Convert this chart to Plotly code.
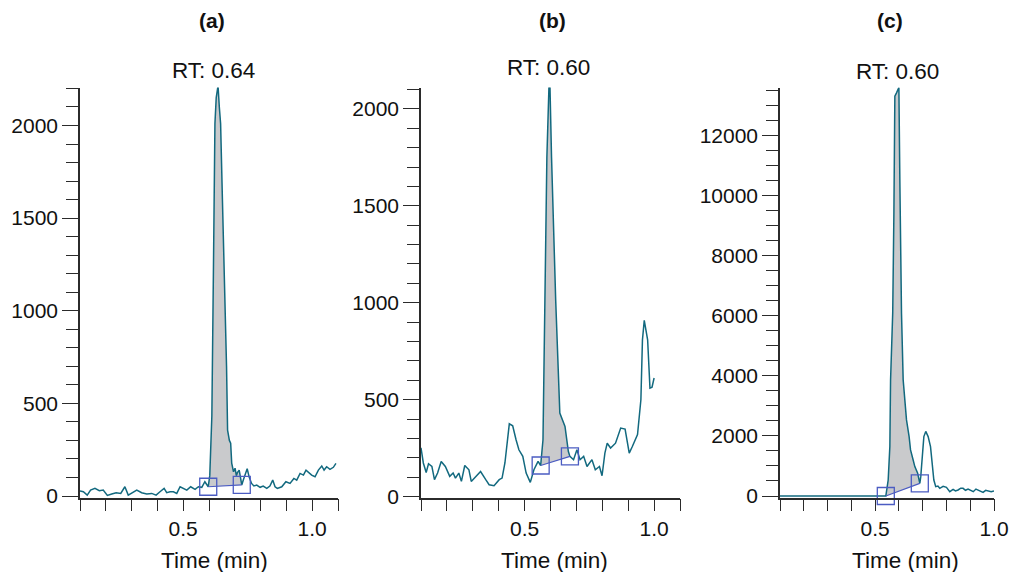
import plotly.graph_objects as go

# ---------------- data ----------------
# Panel (a)
a_time = [0.100, 0.113, 0.128, 0.141, 0.158, 0.175, 0.190, 0.206, 0.223, 0.240,
          0.258, 0.274, 0.287, 0.304, 0.320, 0.339, 0.359, 0.378, 0.395, 0.410,
          0.426, 0.436, 0.449, 0.462, 0.475, 0.488, 0.500, 0.514, 0.529, 0.546,
          0.559, 0.572, 0.584, 0.591, 0.597, 0.603, 0.607, 0.611, 0.617, 0.623,
          0.628, 0.632, 0.635, 0.640, 0.645, 0.652, 0.660, 0.668, 0.672, 0.679,
          0.684, 0.688, 0.695, 0.701, 0.706, 0.710, 0.717, 0.722, 0.727, 0.733,
          0.740, 0.748, 0.756, 0.765, 0.774, 0.785, 0.798, 0.810, 0.824, 0.836,
          0.847, 0.856, 0.865, 0.882, 0.898, 0.914, 0.929, 0.940, 0.953, 0.966,
          0.976, 0.989, 0.998, 1.011, 1.024, 1.037, 1.046, 1.056, 1.069, 1.082,
          1.092]
a_int = [27, 23, 5, 32, 41, 29, 32, 3, 11, 18,
         14, 50, 5, 18, 32, 18, 11, 14, 5, 23,
         41, 18, 23, 23, 14, 50, 41, 32, 50, 36,
         50, 47, 77, 59, 50, 110, 250, 430, 1200, 2010,
         2150, 2215, 2215, 2100, 2010, 1600, 1200, 700, 356, 300,
         285, 178, 131, 150, 110, 126, 140, 95, 60, 86,
         113, 147, 101, 68, 54, 59, 47, 54, 41, 54,
         86, 50, 41, 50, 77, 68, 95, 86, 122, 113,
         140, 122, 113, 104, 140, 162, 140, 158, 144, 155,
         176]
a_base_time = [0.597, 0.727]
a_base_int = [50, 60]

# Panel (b)
b_time = [0.100, 0.109, 0.120, 0.129, 0.142, 0.152, 0.164, 0.178, 0.194, 0.211,
          0.224, 0.233, 0.246, 0.256, 0.269, 0.285, 0.294, 0.311, 0.330, 0.350,
          0.363, 0.382, 0.402, 0.413, 0.424, 0.441, 0.454, 0.467, 0.478, 0.493,
          0.506, 0.522, 0.536, 0.552, 0.562, 0.571, 0.578, 0.586, 0.594, 0.598,
          0.604, 0.612, 0.620, 0.636, 0.656, 0.669, 0.675, 0.689, 0.702, 0.714,
          0.728, 0.741, 0.760, 0.773, 0.789, 0.799, 0.810, 0.819, 0.832, 0.851,
          0.871, 0.888, 0.904, 0.916, 0.936, 0.949, 0.955, 0.962, 0.975, 0.984,
          0.992, 1.000]
b_int = [252, 174, 125, 170, 156, 88, 122, 182, 156, 105,
         122, 96, 122, 79, 161, 139, 79, 105, 130, 88,
         62, 57, 88, 96, 174, 376, 366, 294, 242, 208,
         122, 74, 139, 182, 161, 294, 1015, 1750, 2113, 2113,
         1750, 1350, 1015, 431, 362, 233, 208, 191, 242, 191,
         208, 156, 191, 139, 156, 108, 225, 276, 251, 276,
         354, 349, 225, 259, 320, 500, 809, 909, 809, 560,
         565, 612]
b_base_time = [0.562, 0.675]
b_base_int = [161, 208]

# Panel (c)
c_time = [0.100, 0.541, 0.545, 0.555, 0.562, 0.565, 0.574, 0.579, 0.583, 0.590,
          0.597, 0.600, 0.604, 0.607, 0.611, 0.618, 0.632, 0.643, 0.649, 0.660,
          0.667, 0.679, 0.688, 0.692, 0.700, 0.705, 0.713, 0.723, 0.733, 0.742,
          0.747, 0.755, 0.764, 0.772, 0.786, 0.800, 0.814, 0.828, 0.838, 0.849,
          0.860, 0.870, 0.880, 0.891, 0.902, 0.913, 0.924, 0.934, 0.944, 0.954,
          0.965, 0.975, 0.988, 1.000]
c_int = [0, 0, 0, 533, 1644, 3867, 6089, 9422, 13311, 13422,
         13600, 13600, 10533, 8311, 6089, 3867, 2533, 1978, 1533, 1200,
         978, 756, 420, 644, 1422, 1978, 2150, 1978, 1644, 978,
         533, 311, 330, 256, 320, 289, 144, 222, 170, 200,
         260, 256, 190, 233, 200, 144, 230, 200, 150, 122,
         190, 178, 140, 167]
c_base_time = [0.545, 0.688]
c_base_int = [0, 420]

panel_titles = ["(a)", "(b)", "(c)"]
rt_labels = ["RT: 0.64", "RT: 0.60", "RT: 0.60"]
x_title = "Time (min)"

# ---------------- styling ----------------
W, H = 1010, 572
LINE = "#12697f"
FILL = "#c9cacc"
BOX = "#4b5cc2"
AXC = "#2b2b2b"
FONT = "Liberation Sans, Arial, Helvetica, sans-serif"


def px_x(p):
    return p / W


def px_y(p):
    return (H - p) / H


panels = [
    dict(t=a_time, v=a_int, bt=a_base_time, bv=a_base_int,
         dom=(80, 338), xr=[0.1, 1.1], yr=[-8, 2205], dt=500, mdt=100,
         title_x=212, rt_x=213, rt_y=70, xt_x=214),
    dict(t=b_time, v=b_int, bt=b_base_time, bv=b_base_int,
         dom=(421, 680), xr=[0.1, 1.1], yr=[-4, 2110], dt=500, mdt=100,
         title_x=552, rt_x=548, rt_y=68, xt_x=554),
    dict(t=c_time, v=c_int, bt=c_base_time, bv=c_base_int,
         dom=(780, 994), xr=[0.1, 1.0], yr=[-50, 13600], dt=2000, mdt=500,
         title_x=890, rt_x=897, rt_y=72, xt_x=905),
]

ydom = [px_y(497.5), px_y(87.5)]

fig = go.Figure()
annotations = []
for i, p in enumerate(panels):
    n = "" if i == 0 else str(i + 1)
    xa, ya = "x" + n, "y" + n
    t0, t1 = p["bt"]
    # shaded peak area: trace between the base points, closed by the baseline
    seg = [(t, v) for t, v in zip(p["t"], p["v"]) if t0 <= t <= t1]
    poly_t = [s[0] for s in seg] + [t1, t0]
    poly_v = [s[1] for s in seg] + [p["bv"][1], p["bv"][0]]
    fig.add_trace(go.Scatter(x=poly_t, y=poly_v, mode="lines", fill="toself",
                             fillcolor=FILL, line=dict(width=0, color=FILL),
                             hoverinfo="skip", showlegend=False, xaxis=xa, yaxis=ya))
    fig.add_trace(go.Scatter(x=p["t"], y=p["v"], mode="lines",
                             line=dict(color=LINE, width=1.5),
                             showlegend=False, xaxis=xa, yaxis=ya))
    fig.add_trace(go.Scatter(x=p["bt"], y=p["bv"], mode="lines+markers",
                             line=dict(color=BOX, width=1.2),
                             marker=dict(symbol="square-open", size=17,
                                         color=BOX, line=dict(width=1.3, color=BOX)),
                             cliponaxis=False, showlegend=False, xaxis=xa, yaxis=ya))

    common = dict(showline=True, linecolor=AXC, linewidth=1.5, showgrid=False,
                  zeroline=False, ticks="outside", tickcolor=AXC, tickwidth=1.3,
                  tickfont=dict(family=FONT, size=21, color="#111"),
                  automargin=False, fixedrange=True)
    fig.layout["xaxis" + n] = dict(
        common, domain=[px_x(p["dom"][0]), px_x(p["dom"][1])], range=p["xr"],
        anchor=ya, tick0=0, dtick=0.5, tickformat=".1f", ticklen=12,
        minor=dict(dtick=0.1, tick0=0, ticks="outside", ticklen=12,
                   tickcolor=AXC, tickwidth=1.3, showgrid=False))
    fig.layout["yaxis" + n] = dict(
        common, domain=ydom, range=p["yr"], anchor=xa, tick0=0, dtick=p["dt"],
        tickformat="d", ticklen=16,
        minor=dict(dtick=p["mdt"], tick0=0, ticks="outside", ticklen=12,
                   tickcolor=AXC, tickwidth=1.3, showgrid=False))

    annotations.append(dict(text="<b>%s</b>" % panel_titles[i], x=px_x(p["title_x"]),
                            y=px_y(20), xref="paper", yref="paper", showarrow=False,
                            xanchor="center", yanchor="middle",
                            font=dict(family=FONT, size=21, color="#111")))
    annotations.append(dict(text=rt_labels[i], x=px_x(p["rt_x"]), y=px_y(p["rt_y"]),
                            xref="paper", yref="paper", showarrow=False,
                            xanchor="center", yanchor="middle",
                            font=dict(family=FONT, size=22.5, color="#111")))
    annotations.append(dict(text=x_title, x=px_x(p["xt_x"]), y=px_y(560),
                            xref="paper", yref="paper", showarrow=False,
                            xanchor="center", yanchor="middle",
                            font=dict(family=FONT, size=22.5, color="#111")))

fig.update_layout(width=W, height=H, margin=dict(l=0, r=0, t=0, b=0),
                  paper_bgcolor="white", plot_bgcolor="white", template="none",
                  annotations=annotations, showlegend=False)

fig.write_html("out.html", config={"displayModeBar": False},
               post_script="document.body.style.margin='0';"
                           "document.body.style.overflow='hidden';")
